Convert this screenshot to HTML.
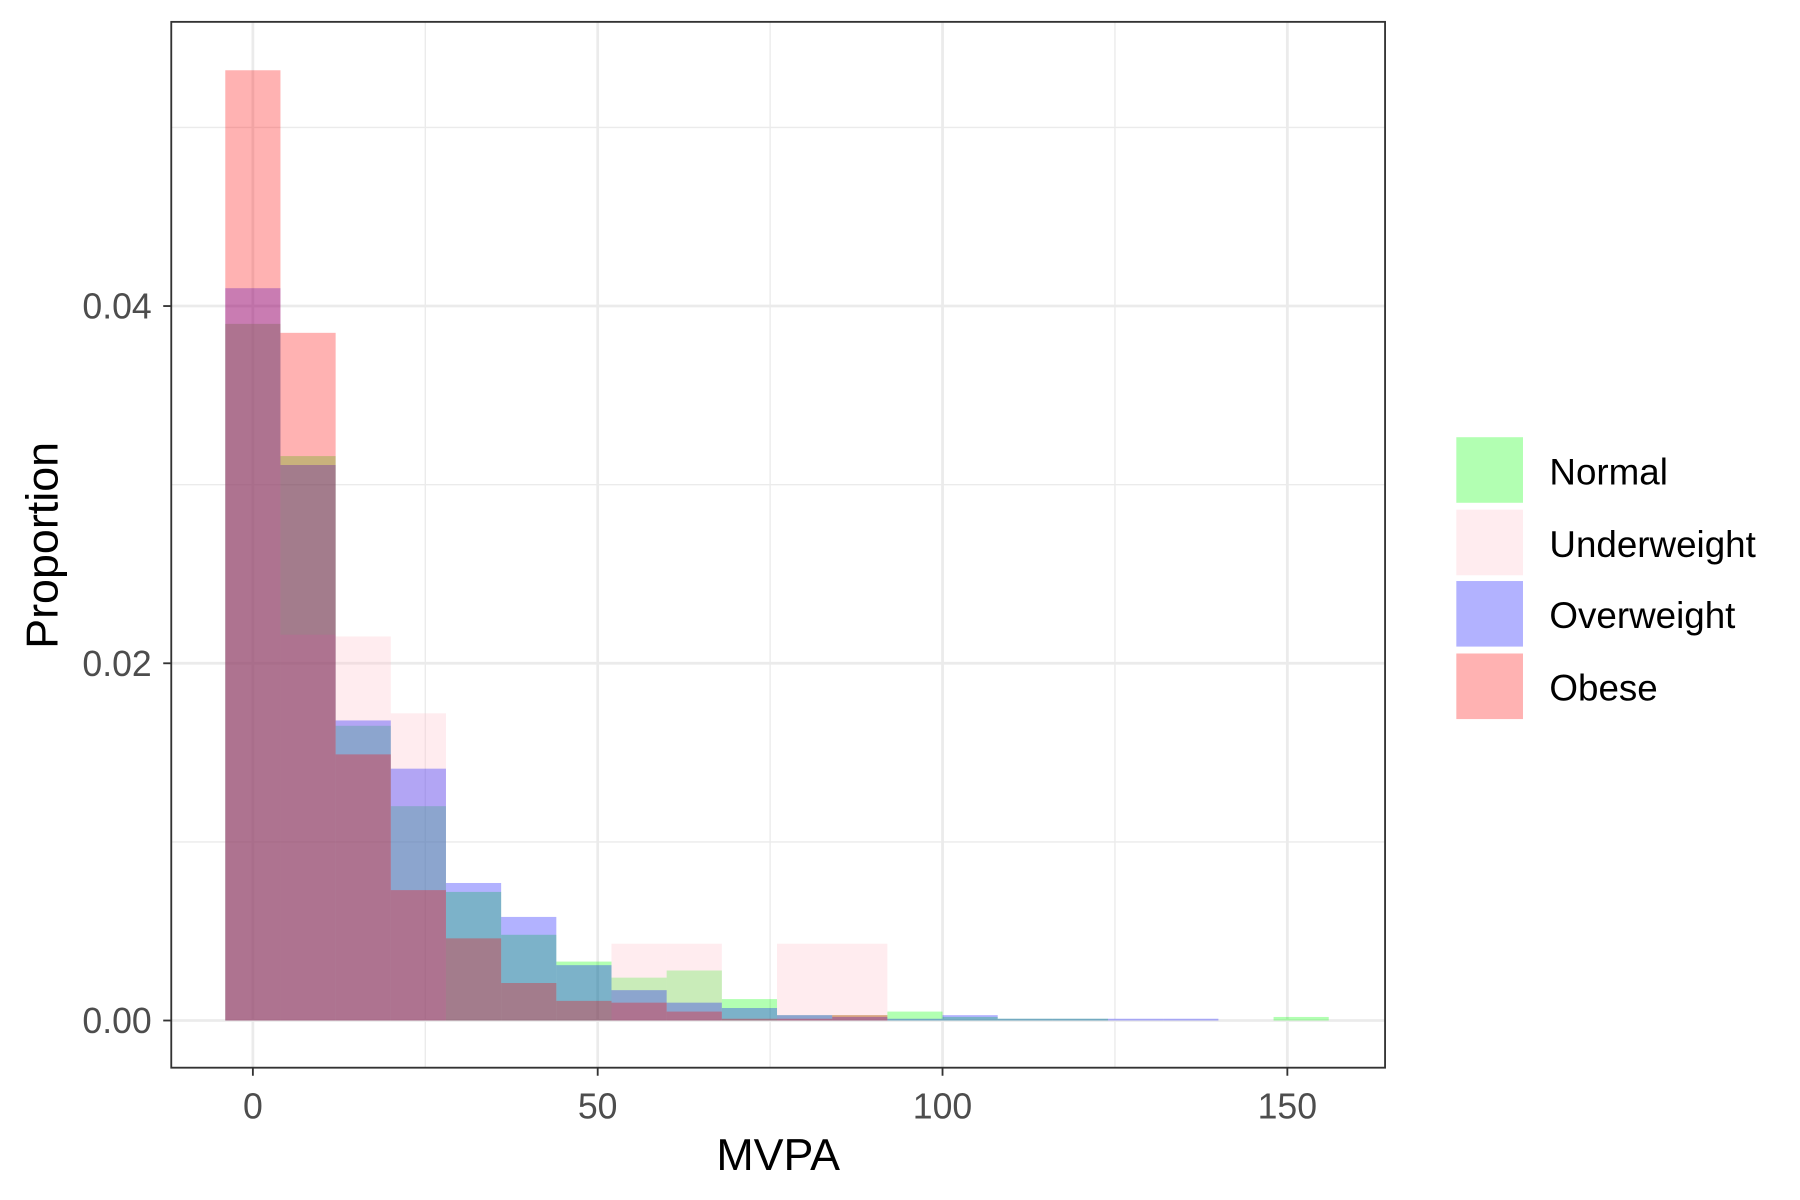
<!DOCTYPE html>
<html><head><meta charset="utf-8"><style>
html,body{margin:0;padding:0;background:#fff}
svg{display:block}
text{font-family:"Liberation Sans",Arial,sans-serif}
</style></head><body>
<svg id="chart" width="1800" height="1200" viewBox="0 0 1566 1043" preserveAspectRatio="none" xmlns="http://www.w3.org/2000/svg">
<rect width="1566" height="1043" fill="#fff"/>
<g id="grid"></g>
<g id="bars"></g>
<rect x="149" y="19" width="1056" height="909" fill="none" stroke="#333" stroke-width="1.6"/>
<g id="axes"></g>
<text x="677" y="1017" font-size="39" text-anchor="middle" fill="#000">MVPA</text>
<text transform="translate(50,474) rotate(-90)" font-size="39" text-anchor="middle" fill="#000">Proportion</text>
<g id="legend"></g>
</svg>
<script>
const binStarts = [-4,4,12,20,28,36,44,52,60,68,76,84,92,100,108,116,124,132,140,148];
const binWidth = 8;
const seriesNames = ["Normal","Underweight","Overweight","Obese"];
const normalVals = [0.0390,0.0316,0.0165,0.0120,0.0072,0.0048,0.0033,0.0024,0.0028,0.0012,0.0003,0.0003,0.0005,0.0002,0.0001,0.0001,0,0,0,0.0002];
const underweightVals = [0.0390,0.0216,0.0215,0.0172,0,0,0,0.0043,0.0043,0,0.0043,0.0043,0,0,0,0,0,0,0,0];
const overweightVals = [0.0410,0.0311,0.0168,0.0141,0.0077,0.0058,0.0031,0.0017,0.0010,0.0007,0.0003,0.0002,0.0001,0.0003,0.0001,0.0001,0.0001,0.0001,0,0];
const obeseVals = [0.0532,0.0385,0.0149,0.0073,0.0046,0.0021,0.0011,0.0010,0.0005,0.0001,0.0001,0.0003,0,0,0,0,0,0,0,0];
const xTicks = [0,50,100,150];
const xMinor = [25,75,125];
const yTicks = [0,0.02,0.04];
const yTickLabels = ["0.00","0.02","0.04"];
const yMinor = [0.01,0.03,0.05];
const colors = ["#00ff00","#ffc0cb","#0000ff","#ff0000"];

const NS="http://www.w3.org/2000/svg";
function xs(v){return 220+v*6;}
function ys(v){return 887-v*15525;}
function mk(tag,attrs,parent){const e=document.createElementNS(NS,tag);for(const k in attrs)e.setAttribute(k,attrs[k]);parent.appendChild(e);return e;}
const grid=document.getElementById('grid'),bars=document.getElementById('bars'),axes=document.getElementById('axes'),legend=document.getElementById('legend');
xMinor.forEach(v=>{const l=mk('line',{x1:xs(v),x2:xs(v),y1:19,y2:928,stroke:'#ebebeb','stroke-width':1.2},grid);

});
yMinor.forEach(v=>{const l=mk('line',{x1:149,x2:1205,y1:ys(v),y2:ys(v),stroke:'#ebebeb','stroke-width':1.2},grid);

});
xTicks.forEach(v=>{const l=mk('line',{x1:xs(v),x2:xs(v),y1:19,y2:928,stroke:'#ebebeb','stroke-width':2.4},grid);


const t=mk('line',{x1:xs(v),x2:xs(v),y1:928,y2:935,stroke:'#333','stroke-width':1.6},axes);


const tx=mk('text',{x:xs(v),y:972,'font-size':31,'text-anchor':'middle',fill:'#4d4d4d'},axes);tx.textContent=v;

});
yTicks.forEach((v,i)=>{const l=mk('line',{x1:149,x2:1205,y1:ys(v),y2:ys(v),stroke:'#ebebeb','stroke-width':2.4},grid);


const t=mk('line',{x1:142,x2:149,y1:ys(v),y2:ys(v),stroke:'#333','stroke-width':1.6},axes);


const tx=mk('text',{x:132,y:ys(v)+11,'font-size':31,'text-anchor':'end',fill:'#4d4d4d'},axes);tx.textContent=yTickLabels[i];

});
const allVals=[normalVals,underweightVals,overweightVals,obeseVals];
allVals.forEach((vals,s)=>{vals.forEach((v,i)=>{if(v<=0)return;
const r=mk('rect',{x:xs(binStarts[i]),width:binWidth*6,y:ys(v),height:ys(0)-ys(v),fill:colors[s],'fill-opacity':0.3},bars);

});});
const keyY=[380,443,505,568];
seriesNames.forEach((n,i)=>{const r=mk('rect',{x:1267,y:keyY[i],width:58,height:57,fill:colors[i],'fill-opacity':0.3},legend);


const t=mk('text',{x:1348,y:keyY[i]+41,'font-size':32,fill:'#000'},legend);t.textContent=n;

});
</script>
</body></html>
